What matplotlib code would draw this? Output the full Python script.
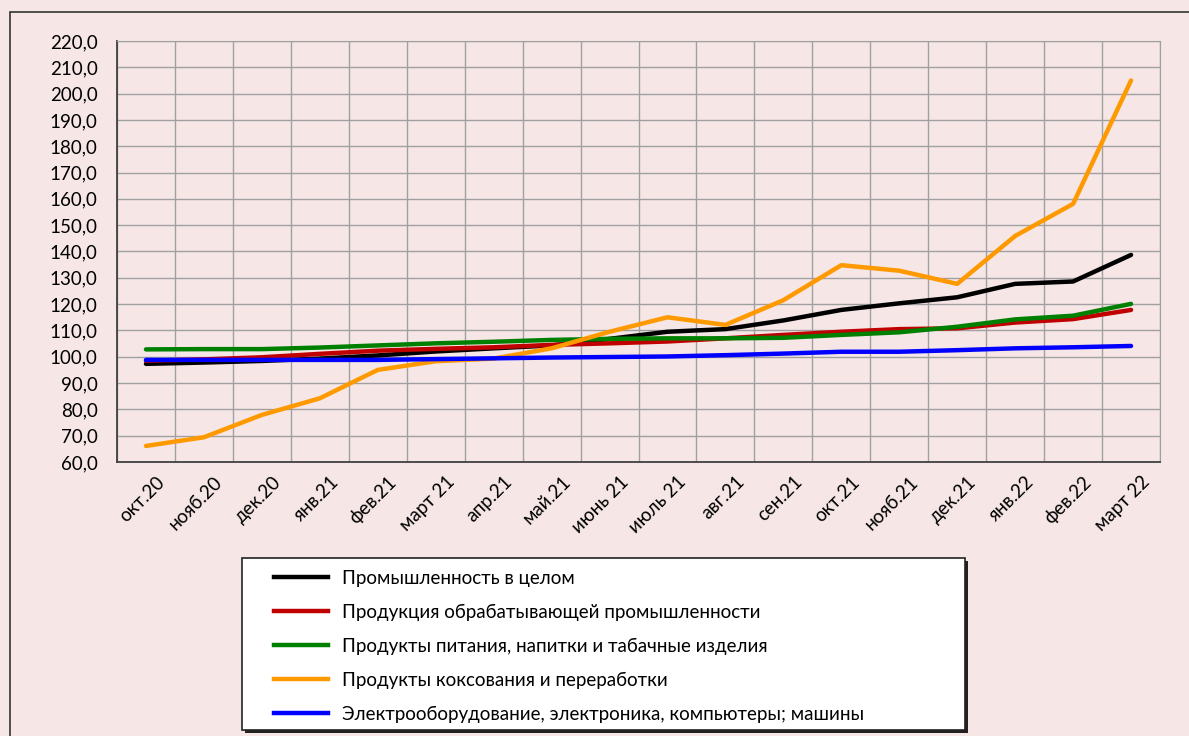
import numpy as np
import matplotlib
matplotlib.use("Agg")
import matplotlib.pyplot as plt
import matplotlib.transforms as mtransforms
from matplotlib.patches import Rectangle
from matplotlib.lines import Line2D
from matplotlib.ticker import FuncFormatter, MultipleLocator

# ── Данные ─────────────────────────────────────────────────────────────────
months = ["окт.20", "нояб.20", "дек.20", "янв.21", "фев.21", "март 21",
          "апр.21", "май.21", "июнь 21", "июль 21", "авг.21", "сен.21",
          "окт.21", "нояб.21", "дек.21", "янв.22", "фев.22", "март 22"]

industry_total = [97.3, 97.8, 98.4, 99.3, 100.5, 102.0, 103.2, 104.3, 106.8,
                  109.5, 110.5, 113.8, 117.8, 120.3, 122.6, 127.7, 128.6, 138.7]
manufacturing = [98.5, 99.0, 99.8, 101.1, 102.3, 103.0, 103.6, 104.5, 105.1,
                 105.8, 107.0, 108.3, 109.5, 110.5, 110.8, 113.0, 114.3, 117.8]
food = [102.8, 102.9, 102.9, 103.5, 104.3, 105.1, 105.7, 106.4, 106.8,
        107.0, 107.0, 107.2, 108.3, 109.3, 111.4, 114.2, 115.6, 120.1]
coke = [66.1, 69.4, 77.9, 84.2, 95.0, 98.3, 99.3, 103.2, 109.5,
        115.0, 112.1, 121.5, 134.8, 132.7, 127.7, 145.9, 158.1, 205.0]
electro = [98.8, 98.8, 98.8, 98.8, 98.8, 99.1, 99.4, 99.7, 99.9,
           100.1, 100.6, 101.2, 101.9, 101.9, 102.5, 103.2, 103.6, 104.1]

series = [
    ("Промышленность в целом", industry_total, "#000000"),
    ("Продукция обрабатывающей промышленности", manufacturing, "#C00000"),
    ("Продукты питания, напитки и табачные изделия", food, "#008000"),
    ("Продукты коксования и переработки", coke, "#FF9900"),
    ("Электрооборудование, электроника, компьютеры; машины", electro, "#0000FF"),
]

BG = "#F6E6E6"
plt.rcParams["font.family"] = ["Lato", "DejaVu Sans"]

# ── Рисунок ────────────────────────────────────────────────────────────────
W, H = 1189, 736
fig = plt.figure(figsize=(W / 100, H / 100), dpi=100, facecolor=BG)

# внешняя рамка
fig.add_artist(Rectangle((10 / W, -0.05), 1.1, 1 - 12 / H + 0.05,
                         transform=fig.transFigure, fill=False,
                         edgecolor="#333333", linewidth=1.2))

ax = fig.add_axes([117 / W, 1 - 462 / H, (1160 - 117) / W, (462 - 41) / H])
ax.set_facecolor(BG)

x = np.arange(len(months))
for label, vals, color in series:
    ax.plot(x, vals, color=color, linewidth=3.2, solid_capstyle="round",
            label=label)

ax.set_xlim(-0.5, len(months) - 0.5)
ax.set_ylim(60, 220)
ax.yaxis.set_major_locator(MultipleLocator(10))
ax.yaxis.set_major_formatter(FuncFormatter(lambda v, p: f"{v:.1f}".replace(".", ",")))
ax.set_xticks(x)
ax.set_xticklabels(months, rotation=45, ha="right", rotation_mode="anchor",
                   fontsize=13.5)
ax.set_xticks(np.arange(-0.5, len(months), 1.0), minor=True)
ax.tick_params(axis="y", length=0, labelsize=13.5, pad=14)
ax.tick_params(axis="x", which="both", length=0, pad=8)

ax.grid(True, axis="y", color="#a0a0a0", linewidth=1.0)
ax.grid(True, axis="x", which="minor", color="#a0a0a0", linewidth=1.0)
ax.set_axisbelow(True)

for side in ("top", "right"):
    ax.spines[side].set_color("#a0a0a0")
for side in ("left", "bottom"):
    ax.spines[side].set_color("#404040")
    ax.spines[side].set_linewidth(1.3)

# сдвиг подписей оси X чуть вправо
offset = mtransforms.ScaledTranslation(10 / 100, 0, fig.dpi_scale_trans)
for lbl in ax.get_xticklabels():
    lbl.set_transform(lbl.get_transform() + offset)

# ── Легенда ────────────────────────────────────────────────────────────────
lx0, lx1, ly0, ly1 = 242, 965, 558, 730
fig.add_artist(Rectangle(((lx0 + 3) / W, 1 - (ly1 + 3) / H),
                         (lx1 - lx0) / W, (ly1 - ly0) / H,
                         transform=fig.transFigure, facecolor="#222222",
                         edgecolor="none"))
fig.add_artist(Rectangle((lx0 / W, 1 - ly1 / H), (lx1 - lx0) / W,
                         (ly1 - ly0) / H, transform=fig.transFigure,
                         facecolor="white", edgecolor="#222222", linewidth=1.2))

handles = [Line2D([], [], color=c, linewidth=3.2) for _, _, c in series]
labels = [s[0] for s in series]
fig.legend(handles, labels, loc="upper left",
           bbox_to_anchor=(257 / W, 1 - 553 / H), frameon=False,
           handlelength=2.9, handletextpad=0.75, labelspacing=0.9,
           prop={"family": ["Lato", "DejaVu Sans"], "size": 13.5})

fig.savefig("out.png", dpi=100, facecolor=BG)
